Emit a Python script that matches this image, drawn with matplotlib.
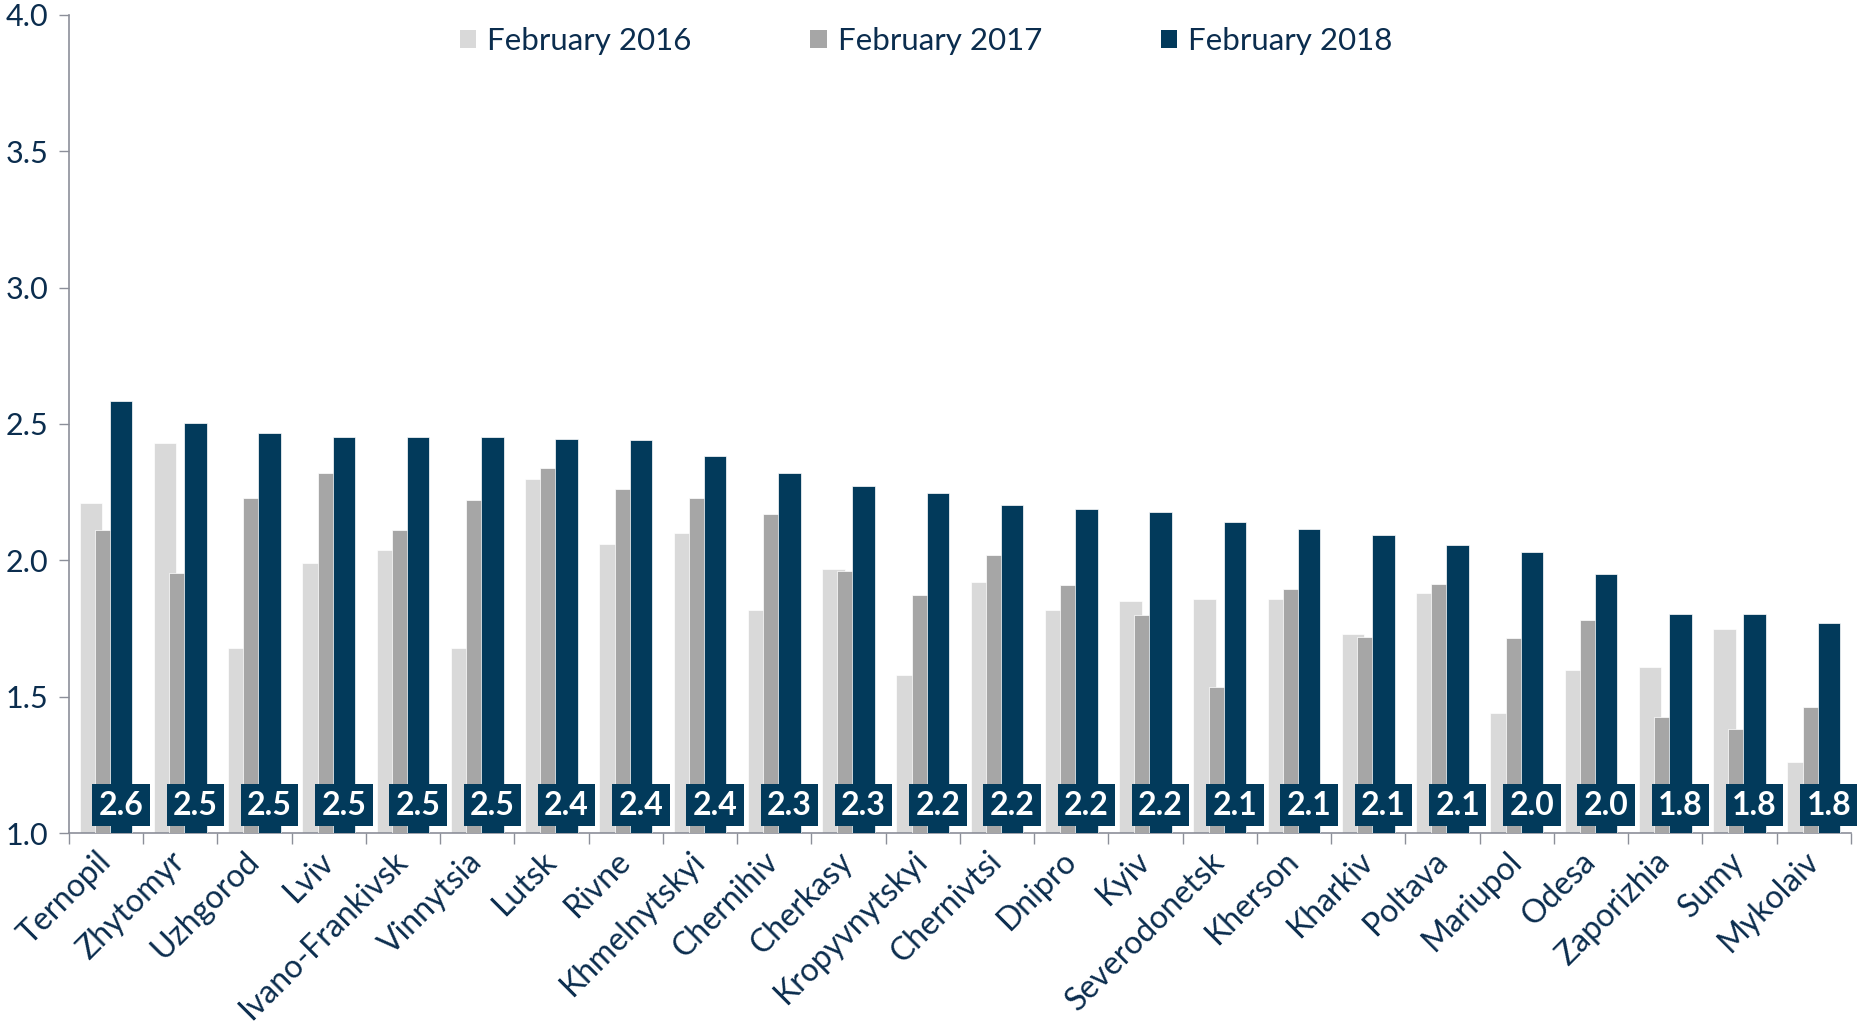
import numpy as np
import matplotlib
matplotlib.use("Agg")
import matplotlib.pyplot as plt
from matplotlib.patches import Patch

plt.rcParams['font.family'] = ['Lato', 'DejaVu Sans']

cities = ["Ternopil", "Zhytomyr", "Uzhgorod", "Lviv", "Ivano-Frankivsk", "Vinnytsia",
          "Lutsk", "Rivne", "Khmelnytskyi", "Chernihiv", "Cherkasy", "Kropyvnytskyi",
          "Chernivtsi", "Dnipro", "Kyiv", "Severodonetsk", "Kherson", "Kharkiv",
          "Poltava", "Mariupol", "Odesa", "Zaporizhia", "Sumy", "Mykolaiv"]

feb_2016 = [2.21, 2.43, 1.68, 1.99, 2.04, 1.68, 2.30, 2.06, 2.10, 1.82, 1.97, 1.58,
            1.92, 1.82, 1.85, 1.86, 1.86, 1.73, 1.88, 1.44, 1.60, 1.61, 1.75, 1.26]
feb_2017 = [2.11, 1.955, 2.23, 2.32, 2.11, 2.22, 2.34, 2.26, 2.23, 2.17, 1.96, 1.875,
            2.02, 1.91, 1.80, 1.535, 1.895, 1.72, 1.915, 1.715, 1.783, 1.427, 1.381, 1.464]
feb_2018 = [2.584, 2.503, 2.467, 2.453, 2.452, 2.451, 2.444, 2.442, 2.384, 2.319, 2.272, 2.247,
            2.204, 2.187, 2.178, 2.140, 2.115, 2.095, 2.056, 2.030, 1.952, 1.805, 1.805, 1.769]

series_names = ["February 2016", "February 2017", "February 2018"]
colors = ["#D9D9D9", "#A6A6A6", "#023A5B"]
navy = "#0B2D4E"
axis_gray = "#8C8F99"

fig = plt.figure(figsize=(18.58, 10.30), dpi=100)
ax = fig.add_axes([0.0371, 0.191, 0.9591, 0.7947])

x = np.arange(len(cities))
width = 0.303
step = 0.203
for i, (vals, c) in enumerate(zip([feb_2016, feb_2017, feb_2018], colors)):
    ax.bar(x + (i - 1) * step, vals, width=width, color=c, edgecolor="white",
           linewidth=0.5, zorder=2 + i)

# value boxes for 2018
for xi, v in zip(x, feb_2018):
    ax.text(xi + step, 1.103, f"{v:.1f}", ha="center", va="center", color="white",
            fontsize=23, fontweight="bold", zorder=10,
            bbox=dict(boxstyle="square,pad=0.2", fc=colors[2], ec="none"))

ax.set_xlim(-0.5, len(cities) - 0.5)
ax.set_ylim(1.0, 4.0)
ax.set_yticks(np.arange(1.0, 4.01, 0.5))
ax.set_yticklabels([f"{t:.1f}" for t in np.arange(1.0, 4.01, 0.5)])

ax.set_xticks(x)
ax.set_xticklabels(cities, rotation=45, ha="right", va="center", rotation_mode="anchor",
                   fontsize=23, color=navy)
ax.set_xticks(np.arange(-0.5, len(cities), 1.0), minor=True)
ax.tick_params(axis="x", which="major", length=0, pad=17)
ax.tick_params(axis="x", which="minor", length=8, color=axis_gray, width=1)
ax.tick_params(axis="y", length=7, color=axis_gray, width=1, labelsize=22,
               labelcolor=navy, pad=8)

for s in ["top", "right"]:
    ax.spines[s].set_visible(False)
for s in ["left", "bottom"]:
    ax.spines[s].set_color(axis_gray)
    ax.spines[s].set_linewidth(1.2)

handles = [Patch(facecolor=c, edgecolor="none") for c in colors]
leg = ax.legend(handles, series_names, loc="center", bbox_to_anchor=(0.481, 0.968),
                ncol=3, frameon=False, fontsize=22.5, handlelength=0.53, handleheight=0.53,
                handletextpad=0.35, columnspacing=3.8)
for t in leg.get_texts():
    t.set_color(navy)

fig.savefig("out.png", dpi=100)
